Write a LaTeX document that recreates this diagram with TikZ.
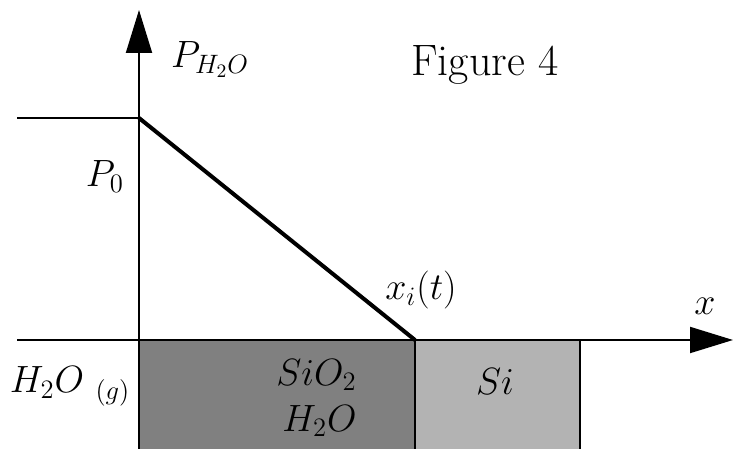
\RequirePackage{fix-cm}
\documentclass[tikz,border=0pt]{standalone}
\usepackage{fontspec}
\usepackage{xcolor}
\usetikzlibrary{arrows.meta}
\usetikzlibrary{math}
\definecolor{oxgray}{RGB}{128,128,128}
\definecolor{sigray}{RGB}{179,179,179}

\begin{document}
\begin{tikzpicture}[x=0.5pt,y=0.5pt,
  lbl/.style={inner sep=0pt,font=\fontsize{19}{23}\selectfont},
  axis/.style={line width=1,-{Triangle[length=21.5pt,width=13pt]}}]
\tikzmath{
\xO=139; \yO=109;%origin
\xI=415;%interface x_i(t)
\xS=580;%end of Si
\yP=331;%level P_0
}
\useasboundingbox (0,0) rectangle (739,449);

\coordinate (yfoot) at (\xO,0);
\coordinate (ytip) at (\xO,439);
\coordinate (xfoot) at (17,\yO);
\coordinate (xtip) at (733,\yO);
\coordinate (pleft) at (17,\yP);
\coordinate (pzero) at (\xO,\yP);
\coordinate (xi) at (\xI,\yO);
\coordinate (xibot) at (\xI,0);
\coordinate (siend) at (\xS,\yO);
\coordinate (sibot) at (\xS,0);

% layers
\fill[oxgray] (yfoot) rectangle (xi);
\fill[sigray] (xibot) rectangle (siend);
\draw[line width=1] (xi) -- (xibot);
\draw[line width=1] (siend) -- (sibot);

% axes
\draw[axis] (yfoot) -- (ytip);
\draw[axis] (xfoot) -- (xtip);

% pressure profile
\draw[line width=1] (pleft) -- (pzero);
\draw[line width=2] (pzero) -- (xi);

% labels
\node[lbl,anchor=base] (plabel) at (210,381) {$P_{H_2O}$};
\node[inner sep=0pt,anchor=base,font=\fontsize{22}{26}\selectfont] (title) at (485,373) {Figure 4};
\node[lbl,anchor=base] (p0label) at (105,262) {$P_0$};
\node[lbl,anchor=base] (xilabel) at (421,149) {$x_i(t)$};
\node[lbl,anchor=base] (xlabel) at (705,134) {$x$};
\node[lbl,anchor=base] (silabel) at (495,54) {$Si$};
\node[lbl,anchor=east,align=right] (oxlabel) at (357,51) {$SiO_2$\\$H_2O$};
\node[lbl,anchor=base] (gaslabel) at (70,56) {$H_2O\ _{(g)}$};
\end{tikzpicture}
\end{document}
